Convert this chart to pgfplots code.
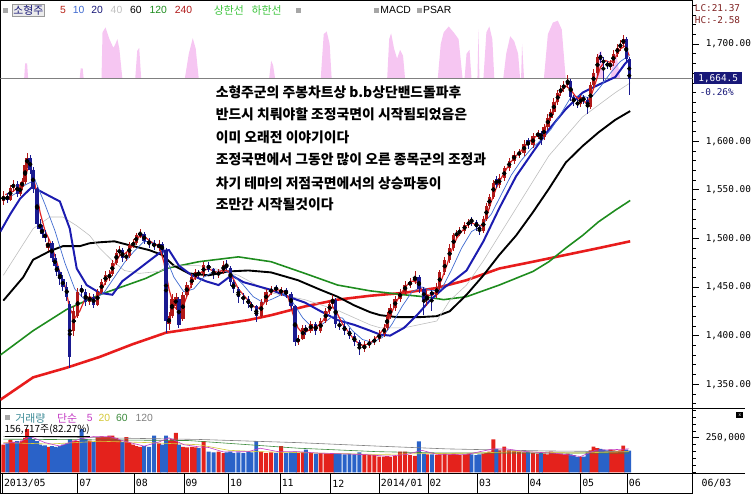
\documentclass[border=0pt]{standalone}
\usepackage{fontspec}
\setmainfont{Liberation Sans}
\newfontfamily\kr{Noto Sans CJK KR}
\newfontfamily\mono{DejaVu Sans Mono}
\usepackage{pgfplots}
\usepackage{pgfplotstable}
\pgfplotsset{compat=1.18}

\definecolor{upc}{HTML}{B01818}
\definecolor{dnc}{HTML}{1A1A90}
\definecolor{ma5}{HTML}{E02424}
\definecolor{ma10}{HTML}{3F6AD0}
\definecolor{ma20}{HTML}{1C1CB0}
\definecolor{ma40}{HTML}{BEBEBE}
\definecolor{ma120}{HTML}{1E8C1E}
\definecolor{ma240}{HTML}{E81C1C}
\definecolor{pinkc}{HTML}{F6C6F2}
\definecolor{volup}{HTML}{E4221C}
\definecolor{voldn}{HTML}{2A62C8}
\definecolor{navybox}{HTML}{181878}
\definecolor{hdrgreen}{HTML}{3CC43C}
\definecolor{lcred}{HTML}{7E2020}
\definecolor{vteal}{HTML}{3C8A96}
\definecolor{vmag}{HTML}{C43CC4}
\definecolor{vyel}{HTML}{D4C838}
\definecolor{vgreen}{HTML}{3C8A3C}

\pgfplotsset{
  panel/.style={scale only axis, anchor=south west, width=698bp, xmin=0, xmax=698,
    axis line style={line width=0.7bp}, tick style={black, line width=0.6bp},
    ytick pos=right, yticklabel pos=right, tick align=outside,
    major tick length=6bp, minor tick length=3bp, clip=true},
  wick/.style={only marks, mark=none, error bars/.cd, y dir=both, y explicit, error mark=none,
    error bar style={draw=#1, line width=0.8bp}},
  body/.style={only marks, mark=none, error bars/.cd, y dir=both, y explicit, error mark=none,
    error bar style={draw=#1, line width=3.4bp}},
}

% rising candles (close >= open)
\pgfplotstableread{
x o h l c v
3 1538 1549 1534 1544 200
10 1540 1555 1538 1552 235
13 1552 1560 1548 1556 220
20 1546 1556 1544 1553 215
22 1553 1562 1550 1558 230
25 1558 1580 1556 1575 250
27 1575 1588 1572 1583 313
48 1490 1500 1487 1495 185
74 1405 1430 1400 1425 230
78 1420 1449 1418 1445 225
90 1435 1444 1432 1440 230
98 1432 1448 1430 1445 255
102 1445 1458 1443 1455 260
106 1455 1466 1452 1462 255
110 1459 1467 1456 1463 265
113 1463 1478 1461 1475 265
117 1475 1489 1473 1485 250
120 1485 1492 1482 1488 235
127 1480 1486 1477 1482 255
130 1482 1496 1480 1493 215
134 1493 1499 1490 1495 200
137 1495 1506 1493 1503 190
141 1503 1510 1500 1505 185
160 1490 1498 1487 1494 210
170 1412 1424 1406 1420 230
173 1420 1443 1418 1438 240
177 1430 1444 1426 1440 285
184 1417 1445 1415 1442 185
188 1442 1455 1440 1452 180
193 1452 1463 1449 1460 185
197 1460 1468 1457 1465 180
205 1463 1476 1460 1473 225
220 1462 1469 1459 1465 150
225 1465 1477 1463 1473 140
263 1420 1438 1418 1435 150
268 1435 1448 1432 1445 140
273 1445 1451 1442 1447 145
283 1444 1450 1441 1447 190
300 1393 1401 1390 1397 140
305 1397 1411 1395 1408 145
313 1405 1415 1403 1412 140
323 1405 1418 1403 1415 140
328 1415 1428 1413 1425 135
332 1425 1436 1422 1432 135
335 1432 1442 1430 1437 140
367 1386 1394 1383 1390 130
372 1390 1397 1387 1393 125
377 1393 1400 1390 1396 127
382 1396 1406 1393 1402 115
387 1402 1412 1399 1408 115
390 1408 1424 1406 1420 120
393 1420 1432 1417 1428 112
398 1428 1441 1425 1438 120
403 1438 1448 1435 1445 150
408 1445 1456 1442 1452 150
413 1452 1459 1449 1455 125
418 1456 1466 1453 1460 120
430 1437 1446 1430 1442 130
440 1442 1454 1439 1450 125
443 1450 1468 1447 1465 130
448 1465 1481 1462 1478 135
453 1478 1494 1475 1490 130
457 1490 1506 1487 1503 135
460 1503 1509 1500 1505 130
463 1505 1512 1502 1508 125
468 1508 1517 1505 1514 130
472 1514 1520 1511 1517 135
487 1508 1523 1506 1520 135
490 1520 1536 1518 1533 140
493 1533 1546 1530 1543 150
497 1543 1560 1541 1557 239
503 1555 1566 1552 1562 160
508 1562 1575 1559 1572 187
513 1572 1583 1569 1580 160
518 1580 1590 1577 1586 155
523 1586 1592 1583 1588 150
528 1588 1601 1585 1597 145
537 1596 1608 1593 1605 140
542 1605 1612 1602 1608 135
548 1604 1618 1601 1615 135
552 1615 1628 1612 1624 130
555 1624 1633 1621 1630 150
558 1630 1644 1627 1640 140
562 1640 1653 1637 1650 135
565 1650 1658 1647 1654 135
568 1654 1662 1651 1658 130
572 1658 1668 1655 1662 135
585 1638 1648 1635 1645 112
595 1635 1661 1633 1658 160
598 1658 1674 1655 1670 187
602 1670 1690 1667 1687 175
615 1676 1684 1673 1680 165
618 1680 1694 1677 1690 160
622 1690 1700 1687 1696 155
625 1696 1704 1693 1700 160
628 1700 1709 1697 1705 193
}\upcandles

% falling candles (close < open)
\pgfplotstableread{
x o h l c v
7 1544 1547 1536 1540 210
17 1556 1559 1543 1546 225
30 1583 1586 1566 1570 260
33 1570 1573 1547 1551 240
37 1551 1553 1510 1515 225
40 1515 1520 1506 1510 200
42 1510 1514 1500 1505 190
45 1505 1509 1496 1500 195
52 1495 1497 1476 1480 190
55 1480 1484 1468 1472 185
57 1472 1475 1461 1465 180
60 1465 1468 1452 1458 190
63 1458 1462 1446 1450 200
67 1450 1455 1436 1440 210
70 1432 1436 1367 1378 240
82 1449 1452 1440 1445 313
86 1445 1448 1430 1435 240
94 1440 1443 1428 1432 220
123 1488 1490 1476 1480 220
145 1505 1507 1494 1497 190
150 1497 1500 1490 1495 185
155 1495 1498 1488 1492 265
163 1494 1496 1484 1488 200
167 1488 1490 1403 1415 265
180 1438 1440 1408 1411 200
200 1465 1468 1459 1463 175
210 1473 1476 1465 1468 150
215 1468 1470 1458 1462 145
228 1473 1478 1467 1470 145
232 1470 1472 1451 1455 150
235 1455 1457 1444 1448 140
240 1448 1450 1434 1440 145
245 1440 1444 1433 1438 140
250 1438 1441 1428 1432 150
253 1432 1435 1425 1430 145
258 1430 1432 1414 1420 225
278 1450 1452 1444 1447 140
288 1447 1449 1439 1443 140
293 1443 1445 1426 1430 145
297 1430 1432 1389 1393 150
308 1408 1411 1401 1405 165
318 1412 1414 1401 1405 135
338 1437 1439 1408 1412 135
342 1412 1415 1406 1410 135
347 1410 1413 1401 1405 130
352 1405 1408 1396 1400 135
357 1400 1403 1389 1393 130
362 1393 1395 1380 1388 145
422 1460 1462 1444 1448 224
427 1448 1450 1421 1437 135
435 1445 1447 1425 1442 130
475 1520 1522 1513 1517 130
480 1517 1519 1508 1512 125
483 1512 1514 1503 1508 130
500 1561 1564 1552 1555 170
532 1601 1603 1592 1596 150
545 1608 1610 1596 1604 140
575 1662 1664 1641 1645 130
578 1645 1648 1636 1640 125
582 1640 1643 1634 1638 112
588 1645 1648 1638 1642 115
592 1642 1645 1628 1635 150
605 1689 1692 1680 1684 170
608 1684 1687 1662 1680 165
612 1680 1683 1674 1678 160
631 1705 1707 1681 1685 165
634 1685 1687 1648 1664.5 156.7
}\dncandles

\begin{document}
\begin{tikzpicture}
% ---------------- price panel ----------------
\begin{axis}[panel, at={(0bp,86bp)}, height=411bp,
  ymin=1325.5, ymax=1744.9,
  xtick=\empty,
  ytick={1350,1400,1450,1500,1550,1600,1700},
  minor ytick={1330,1340,...,1740},
  yticklabel style={font=\mono\fontsize{9.5}{10}\selectfont, anchor=west, inner sep=0pt, xshift=7bp},
  /pgf/number format/fixed, /pgf/number format/fixed zerofill,
  /pgf/number format/precision=2, /pgf/number format/1000 sep={,},
  /pgf/number format/assume math mode=true,
]
% pink indicator area
\addplot[fill=pinkc, draw=none] coordinates {
(0,1664.5) (24,1664.5)(25,1680)(27,1680)(28,1664.5)
(80,1664.5)(81,1675)(83,1675)(84,1664.5)
(102,1664.5)(103,1712)(106,1717)(110,1705)(114,1696)(116,1700)(118,1705)(120,1695)(123,1664.5)
(136,1664.5)(138,1693)(140,1696)(142,1664.5)
(186,1664.5)(190,1690)(194,1706)(197,1695)(200,1664.5)
(271,1664.5)(273,1683)(275,1678)(277,1664.5)
(323,1664.5)(326,1710)(329,1713)(332,1700)(334,1664.5)
(390,1664.5)(392,1705)(394,1711)(397,1695)(400,1685)(403,1694)(406,1688)(408,1664.5)
(441,1664.5)(444,1700)(447,1712)(452,1718)(457,1712)(462,1705)(466,1664.5)
(468,1664.5)(470,1690)(473,1694)(475,1664.5)
(481,1664.5)(482,1715)(483,1664.5)
(487,1664.5)(490,1712)(493,1718)(496,1705)(498,1664.5)
(507,1664.5)(510,1690)(514,1708)(518,1703)(522,1690)(524,1664.5)
(525,1664.5)(526,1700)(528,1664.5)
(548,1664.5)(552,1710)(557,1722)(562,1724)(566,1715)(570,1664.5)
(600,1664.5)(603,1690)(606,1693)(609,1664.5)
(615,1664.5)(618,1688)(621,1690)(625,1664.5)
(698,1664.5)};
% current price line
\addplot[gray, line width=0.6bp] coordinates {(0,1664.5) (698,1664.5)};
% MA240
\addplot[ma240, line width=2.6bp] coordinates {(0,1334)(33,1357)(67,1367)(100,1378)(133,1391)(167,1403)(200,1408)(250,1416)(273,1421)(307,1430)(340,1437)(373,1441)(407,1444)(440,1449)(470,1457)(503,1469)(537,1476)(570,1483)(603,1490)(635,1497)};
% MA120
\addplot[ma120, line width=1.6bp] coordinates {(0,1380)(33,1405)(67,1427)(100,1442)(147,1459)(167,1469)(200,1476)(240,1481)(273,1476)(307,1464)(340,1452)(373,1446)(407,1442)(427,1440)(447,1437)(470,1440)(503,1452)(537,1466)(553,1476)(570,1490)(587,1503)(603,1517)(620,1529)(635,1539)};
% MA60
\addplot[black, line width=1.9bp] coordinates {(3,1436)(23,1460)(33,1478)(50,1487)(63,1492)(80,1492)(90,1495)(100,1496)(115,1497)(130,1493)(150,1488)(163,1483)(175,1472)(190,1464)(210,1462)(230,1466)(250,1467)(273,1465)(300,1457)(323,1447)(340,1440)(357,1431)(373,1424)(383,1421)(400,1419)(423,1419)(440,1420)(453,1425)(470,1442)(487,1462)(503,1483)(520,1503)(537,1527)(553,1551)(570,1578)(587,1595)(603,1609)(620,1622)(635,1631)};
% MA40
\addplot[ma40, line width=0.6bp] coordinates {(3,1462)(33,1510)(50,1522)(63,1522)(77,1513)(90,1503)(100,1490)(113,1477)(125,1467)(140,1464)(160,1466)(175,1472)(200,1472)(220,1468)(240,1462)(273,1444)(307,1437)(340,1426)(373,1411)(383,1408)(407,1408)(440,1415)(453,1436)(470,1452)(487,1477)(520,1531)(553,1585)(587,1625)(620,1650)(635,1660)};
% MA20
\addplot[ma20, line width=2bp] coordinates {(0,1507)(10,1525)(20,1541)(32,1553)(45,1546)(60,1538)(70,1510)(77,1469)(87,1452)(100,1444)(113,1442)(123,1456)(140,1469)(163,1487)(170,1488)(180,1472)(193,1462)(207,1456)(220,1452)(233,1462)(245,1455)(273,1447)(293,1439)(307,1434)(323,1425)(340,1416)(357,1411)(373,1405)(383,1401)(393,1400)(407,1408)(420,1421)(433,1436)(447,1449)(460,1459)(470,1467)(487,1497)(503,1531)(520,1564)(537,1589)(553,1612)(570,1633)(587,1650)(603,1658)(620,1666)(630,1680)(634,1684)};
% MA10
\addplot[ma10, line width=0.7bp] coordinates {(5,1540)(15,1546)(25,1555)(35,1560)(45,1535)(55,1508)(65,1475)(75,1448)(85,1437)(95,1437)(105,1445)(115,1460)(125,1475)(135,1487)(145,1497)(155,1496)(165,1485)(175,1460)(185,1445)(195,1448)(205,1460)(215,1466)(225,1467)(235,1462)(245,1452)(255,1440)(265,1434)(275,1438)(285,1443)(295,1434)(305,1418)(315,1408)(325,1412)(335,1420)(345,1418)(355,1405)(365,1396)(375,1393)(385,1398)(395,1412)(405,1430)(415,1445)(425,1450)(435,1446)(445,1448)(455,1468)(465,1490)(475,1507)(485,1513)(495,1525)(505,1545)(515,1565)(525,1580)(535,1592)(545,1601)(555,1612)(565,1628)(575,1645)(585,1647)(595,1644)(605,1656)(615,1670)(625,1682)(634,1688)};
% MA5
\addplot[ma5, line width=1.2bp] coordinates {(5,1545)(12,1548)(18,1552)(24,1562)(28,1572)(32,1570)(36,1550)(40,1527)(45,1508)(50,1497)(55,1482)(60,1465)(65,1452)(70,1428)(75,1418)(80,1425)(85,1437)(90,1440)(95,1438)(100,1443)(105,1453)(110,1462)(115,1473)(120,1482)(125,1484)(130,1488)(135,1495)(140,1502)(145,1502)(150,1498)(155,1494)(160,1493)(165,1475)(170,1448)(175,1430)(180,1425)(185,1432)(190,1446)(195,1458)(200,1463)(205,1467)(210,1469)(215,1466)(220,1465)(225,1468)(230,1466)(235,1458)(240,1448)(245,1442)(250,1436)(255,1430)(260,1428)(265,1432)(270,1440)(275,1446)(280,1447)(285,1446)(290,1440)(295,1422)(300,1408)(305,1402)(310,1405)(315,1408)(320,1410)(325,1415)(330,1424)(335,1430)(340,1422)(345,1412)(350,1405)(355,1398)(360,1393)(365,1390)(370,1391)(375,1394)(380,1399)(385,1405)(390,1413)(395,1425)(400,1436)(405,1445)(410,1452)(415,1456)(420,1455)(425,1447)(430,1442)(435,1441)(440,1446)(445,1458)(450,1472)(455,1488)(460,1500)(465,1507)(470,1513)(475,1516)(480,1514)(485,1513)(490,1522)(495,1538)(500,1552)(505,1562)(510,1571)(515,1579)(520,1585)(525,1590)(530,1596)(535,1601)(540,1605)(545,1607)(550,1615)(555,1626)(560,1640)(565,1650)(570,1657)(575,1653)(580,1646)(585,1642)(590,1640)(595,1645)(600,1660)(605,1676)(610,1683)(615,1681)(620,1686)(625,1695)(630,1698)(634,1688)};
% candles: wicks
\addplot[wick=upc] table[x=x, y expr={(\thisrow{h}+\thisrow{l})/2}, y error expr={(\thisrow{h}-\thisrow{l})/2}] {\upcandles};
\addplot[wick=dnc] table[x=x, y expr={(\thisrow{h}+\thisrow{l})/2}, y error expr={(\thisrow{h}-\thisrow{l})/2}] {\dncandles};
% candles: bodies
\addplot[body=upc] table[x=x, y expr={(\thisrow{o}+\thisrow{c})/2}, y error expr={(\thisrow{c}-\thisrow{o})/2}] {\upcandles};
\addplot[body=dnc] table[x=x, y expr={(\thisrow{o}+\thisrow{c})/2}, y error expr={(\thisrow{o}-\thisrow{c})/2}] {\dncandles};
\end{axis}

% ---------------- volume panel ----------------
\begin{axis}[panel, at={(0bp,20bp)}, height=66bp,
  ymin=-7.14, ymax=464.3,
  xtick=\empty,
  ytick={250}, yticklabels={{250{,}000}},
  minor ytick={0,50,...,450},
  yticklabel style={font=\mono\fontsize{9.5}{10}\selectfont, anchor=west, inner sep=0pt, xshift=7bp},
]
\addplot[ybar, bar width=4bp, bar shift=0pt, fill=volup, draw=none] table[x=x, y=v] {\upcandles};
\addplot[ybar, bar width=4bp, bar shift=0pt, fill=voldn, draw=none] table[x=x, y=v] {\dncandles};
\addplot[gray, line width=0.6bp] coordinates {(3,260)(100,250)(200,238)(300,215)(380,190)(450,170)(550,155)(634,150)};
\addplot[vgreen, line width=0.6bp] coordinates {(3,240)(100,235)(190,230)(230,210)(300,175)(380,150)(450,140)(550,140)(634,140)};
\addplot[vyel, line width=0.6bp] coordinates {(3,215)(50,205)(100,225)(150,215)(200,200)(230,160)(260,150)(320,140)(380,130)(420,135)(480,140)(520,150)(580,140)(634,150)};
\addplot[vmag, line width=0.6bp] coordinates {(3,210)(20,220)(30,260)(45,215)(60,190)(80,240)(95,260)(110,260)(125,225)(145,190)(160,220)(170,250)(185,200)(200,185)(210,180)(225,148)(250,150)(262,175)(280,150)(300,150)(320,140)(350,133)(370,128)(390,117)(410,130)(425,160)(440,130)(470,130)(497,170)(510,170)(530,150)(560,138)(585,115)(600,160)(620,165)(634,170)};
\end{axis}

% ---------------- date row ----------------
\begin{axis}[scale only axis, anchor=south west, at={(0bp,0bp)}, width=698bp, height=20bp,
  xmin=0, xmax=698, ymin=0, ymax=1, ytick=\empty,
  axis line style={line width=0.7bp},
  xtick={2,78,135,185,230,282,333,382,431,481,532,585,632},
  xticklabels={2013/05,07,08,09,10,11,12,2014/01,02,03,04,05,06},
  xmajorgrids, grid style={black, line width=0.7bp}, major tick length=0pt,
  xticklabel style={font=\mono\fontsize{10}{11}\selectfont, anchor=west, inner sep=0pt, xshift=1.5bp, yshift=10bp},
]
\end{axis}

% frame lines across the whole width
\draw[line width=0.7bp] (0bp,86bp) -- (751bp,86bp);
\draw[line width=0.7bp] (0bp,20bp) -- (751bp,20bp);
\node[font=\mono\fontsize{10}{11}\selectfont, anchor=center] at (722bp,10bp) {06/03};

% right header
\node[font=\mono\fontsize{9.5}{10}\selectfont, text=lcred, anchor=west, inner sep=0pt] at (700bp,489bp) {LC:21.37};
\node[font=\mono\fontsize{9.5}{10}\selectfont, text=lcred, anchor=west, inner sep=0pt] at (700bp,477bp) {HC:-2.58};
\node[fill=navybox, text=white, font=\mono\fontsize{9.5}{10}\selectfont, minimum width=49bp, minimum height=12bp, inner sep=0pt, anchor=west] at (699bp,418.5bp) {1,664.5};
\node[font=\mono\fontsize{9.5}{10}\selectfont, text=navybox, anchor=west, inner sep=0pt] at (705bp,405bp) {-0.26\%};
\fill[black] (742bp,76bp) rectangle (749bp,82bp);
\node[text=white, font=\fontsize{5}{5}\selectfont, inner sep=0pt] at (745.5bp,79bp) {x};

% top header
\fill[gray!70] (3bp,484bp) rectangle (8bp,489bp);
\node[draw=gray!80, fill=gray!15, text=navybox, font=\kr\fontsize{11}{12}\selectfont, inner sep=1pt, anchor=west] at (12bp,487bp) {소형주};
\node[anchor=west, inner sep=0pt, font=\fontsize{10.5}{12}\selectfont] at (60bp,487bp) {\textcolor{upc!90!orange}{5}\hspace{7bp}\textcolor{ma10}{10}\hspace{7bp}\textcolor{navybox}{20}\hspace{8bp}\textcolor{gray!50}{40}\hspace{8bp}\textcolor{black}{60}\hspace{8bp}\textcolor{ma120}{120}\hspace{8bp}\textcolor{upc}{240}};
\node[anchor=west, inner sep=0pt, text=hdrgreen, font=\kr\fontsize{11}{12}\selectfont] at (215bp,487bp) {상한선\hspace{8bp}하한선};
\fill[gray!70] (298bp,484bp) rectangle (303bp,489bp);
\fill[gray!70] (377bp,484bp) rectangle (382bp,489bp);
\node[anchor=west, inner sep=0pt, font=\fontsize{10.5}{12}\selectfont] at (383bp,487bp) {MACD};
\fill[gray!70] (420bp,484bp) rectangle (425bp,489bp);
\node[anchor=west, inner sep=0pt, font=\fontsize{10.5}{12}\selectfont] at (426bp,487bp) {PSAR};

% volume header
\fill[gray!70] (5bp,74bp) rectangle (10bp,79bp);
\node[anchor=west, inner sep=0pt, text=vteal, font=\kr\fontsize{11}{12}\selectfont] at (15bp,76bp) {거래량};
\node[anchor=west, inner sep=0pt, text=vmag, font=\kr\fontsize{11}{12}\selectfont] at (57bp,76bp) {단순};
\node[anchor=west, inner sep=0pt, font=\fontsize{10.5}{12}\selectfont] at (87bp,76bp) {\textcolor{vmag}{5}\hspace{6bp}\textcolor{vyel}{20}\hspace{6bp}\textcolor{vgreen}{60}\hspace{8bp}\textcolor{gray}{120}};
\node[anchor=west, inner sep=0pt, font=\kr\fontsize{10}{11}\selectfont] at (4bp,63bp) {\underline{156,717주(82.27\%)}};

% annotation
\begin{scope}[every node/.style={anchor=west, inner sep=0pt, font=\kr\bfseries\fontsize{14}{16}\selectfont}]
\node at (217bp,404bp) {소형주군의 주봉차트상 b.b상단밴드돌파후};
\node at (217bp,382bp) {반드시 치뤄야할 조정국면이 시작됨되었음은};
\node at (217bp,359bp) {이미 오래전 이야기이다};
\node at (217bp,337bp) {조정국면에서 그동안 많이 오른 종목군의 조정과};
\node at (217bp,313bp) {차기 테마의 저점국면에서의 상승파동이};
\node at (217bp,291bp) {조만간 시작될것이다};
\end{scope}
\end{tikzpicture}
\end{document}
